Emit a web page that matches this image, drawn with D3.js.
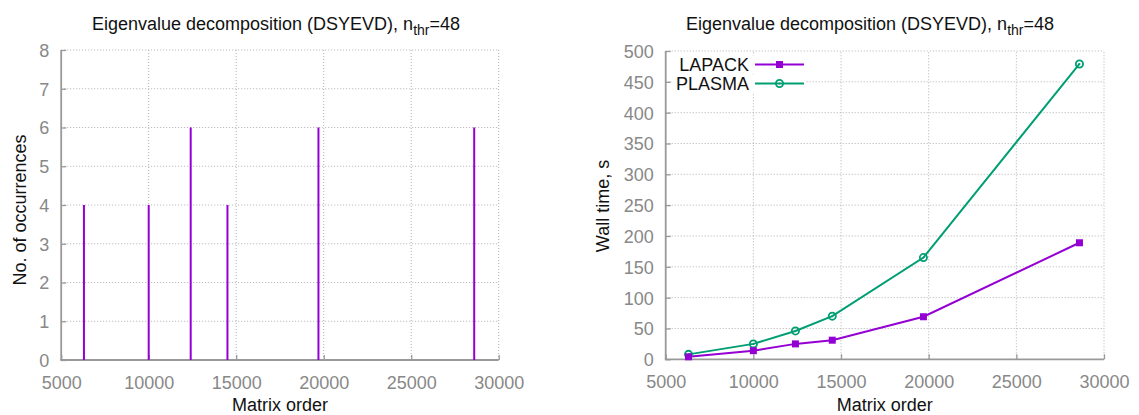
<!DOCTYPE html>
<html>
<head>
<meta charset="utf-8">
<script src="https://cdn.jsdelivr.net/npm/d3@7"></script>
<style>
  body { margin: 0; background: #fff; }
  svg { display: block; font-family: "Liberation Sans", Arial, sans-serif; }
</style>
</head>
<body>
<svg id="chart" width="1139" height="415"></svg>
<script>
// Matrix orders tested
const matrixOrders = [6300, 10000, 12400, 14500, 19700, 28600];
// Left panel: number of occurrences per matrix order
const occurrences = [4, 4, 6, 4, 6, 6];
// Right panel: wall time in seconds
const lapackTimes = [4, 14, 25, 31, 69, 189];
const plasmaTimes = [8, 25, 46, 70, 165, 479];
const seriesNames = ["LAPACK", "PLASMA"];
const xTicks = [5000, 10000, 15000, 20000, 25000, 30000];
const yTicksLeft = [0, 1, 2, 3, 4, 5, 6, 7, 8];
const yTicksRight = [0, 50, 100, 150, 200, 250, 300, 350, 400, 450, 500];

const PURPLE = "#9400d3";
const GREEN = "#009e73";
const AXIS = "#999999";
const GRID = "#b0b0b0";
const TICKTXT = "#888888";

const svg = d3.select("#chart");

function panel(opts) {
  const g = svg.append("g");
  const x = d3.scaleLinear().domain([5000, 30000]).range([opts.x0, opts.x1]);
  const y = d3.scaleLinear().domain(opts.yDomain).range([opts.y0, opts.y1]);

  // dotted grid
  g.append("g").selectAll("line.gx").data(xTicks.slice(1)).join("line")
    .attr("x1", d => x(d)).attr("x2", d => x(d))
    .attr("y1", opts.y0).attr("y2", opts.y1)
    .attr("stroke", GRID).attr("stroke-width", 1).attr("stroke-dasharray", "1,2");
  g.append("g").selectAll("line.gy").data(opts.yTicks.slice(1)).join("line")
    .attr("x1", opts.x0).attr("x2", opts.x1)
    .attr("y1", d => y(d)).attr("y2", d => y(d))
    .attr("stroke", GRID).attr("stroke-width", 1).attr("stroke-dasharray", "1,2");

  // axes with inward ticks
  const xAxis = d3.axisBottom(x).tickValues(xTicks).tickSize(-5).tickPadding(12).tickFormat(d3.format("d"));
  const yAxis = d3.axisLeft(y).tickValues(opts.yTicks).tickSize(-5).tickPadding(12).tickFormat(d3.format("d"));
  const gx = g.append("g").attr("transform", `translate(0,${opts.y0})`).call(xAxis);
  const gy = g.append("g").attr("transform", `translate(${opts.x0},0)`).call(yAxis);
  [gx, gy].forEach(a => {
    a.select(".domain").attr("stroke", AXIS).attr("stroke-width", 1.8)
      .attr("d", a === gx ? `M${opts.x0 - 0.9},0H${opts.x1}` : `M0,${opts.y0}V${opts.y1}`);
    a.selectAll(".tick line").attr("stroke", AXIS).attr("stroke-width", 1.3);
    a.selectAll(".tick text").attr("fill", TICKTXT).attr("font-size", 18)
      .attr("font-family", "Liberation Sans, Arial, sans-serif");
  });
  gx.selectAll(".tick text").attr("dy", "0.95em");
  gy.selectAll(".tick text").attr("dy", "0.36em");

  // title with subscript
  const t = g.append("text").attr("x", opts.titleX).attr("y", 30)
    .attr("font-size", 18).attr("fill", "#111").attr("text-anchor", "middle");
  t.append("tspan").text("Eigenvalue decomposition (DSYEVD), n");
  t.append("tspan").attr("font-size", 14).attr("dy", 5).text("thr");
  t.append("tspan").attr("dy", -5).text("=48");

  // axis labels
  g.append("text").attr("x", (opts.x0 + opts.x1) / 2).attr("y", 411)
    .attr("text-anchor", "middle").attr("font-size", 18).attr("fill", "#111").text("Matrix order");
  g.append("text").attr("transform", `translate(${opts.ylabX},${opts.ylabY}) rotate(-90)`)
    .attr("text-anchor", "middle").attr("font-size", 18).attr("fill", "#111").text(opts.ylab);

  return { g, x, y };
}

// Left panel: impulses
const L = panel({ x0: 61.2, x1: 498.7, y0: 360, y1: 50, yDomain: [0, 8], yTicks: yTicksLeft,
  titleX: 276, ylab: "No. of occurrences", ylabX: 26, ylabY: 210 });
L.g.append("g").selectAll("line").data(matrixOrders).join("line")
  .attr("x1", (d) => L.x(d)).attr("x2", (d) => L.x(d))
  .attr("y1", L.y(0)).attr("y2", (d, i) => L.y(occurrences[i]))
  .attr("stroke", PURPLE).attr("stroke-width", 2);

// Right panel: wall times
const R = panel({ x0: 665.7, x1: 1104, y0: 359.3, y1: 51, yDomain: [0, 500], yTicks: yTicksRight,
  titleX: 870, ylab: "Wall time, s", ylabX: 609, ylabY: 206 });

const line = d3.line().x(d => R.x(d[0])).y(d => R.y(d[1]));
const lapack = matrixOrders.map((m, i) => [m, lapackTimes[i]]);
const plasma = matrixOrders.map((m, i) => [m, plasmaTimes[i]]);

R.g.append("path").datum(plasma).attr("d", line).attr("fill", "none")
  .attr("stroke", GREEN).attr("stroke-width", 2);
R.g.append("path").datum(lapack).attr("d", line).attr("fill", "none")
  .attr("stroke", PURPLE).attr("stroke-width", 2);

function squares(sel, data) {
  sel.selectAll(null).data(data).join("rect")
    .attr("x", d => d[0] - 3.5).attr("y", d => d[1] - 3.5)
    .attr("width", 7).attr("height", 7).attr("fill", PURPLE);
}
function circles(sel, data) {
  sel.selectAll(null).data(data).join("circle")
    .attr("cx", d => d[0]).attr("cy", d => d[1]).attr("r", 3.6)
    .attr("fill", "none").attr("stroke", GREEN).attr("stroke-width", 1.8);
  sel.selectAll(null).data(data).join("circle")
    .attr("cx", d => d[0]).attr("cy", d => d[1]).attr("r", 1)
    .attr("fill", GREEN);
}
circles(R.g.append("g"), plasma.map(d => [R.x(d[0]), R.y(d[1])]));
squares(R.g.append("g"), lapack.map(d => [R.x(d[0]), R.y(d[1])]));

// legend
const legend = R.g.append("g");
const legendRows = [{ name: seriesNames[0], color: PURPLE, y: 64.5 }, { name: seriesNames[1], color: GREEN, y: 83.5 }];
legendRows.forEach((r, i) => {
  legend.append("rect").attr("x", 672).attr("y", r.y - 9).attr("width", 82).attr("height", 18).attr("fill", "#fff");
  legend.append("text").attr("x", 749).attr("y", r.y).attr("dy", "0.36em")
    .attr("text-anchor", "end").attr("font-size", 18).attr("fill", "#111").text(r.name);
  legend.append("rect").attr("x", 754).attr("y", r.y - 4).attr("width", 51).attr("height", 8).attr("fill", "#fff");
  legend.append("line").attr("x1", 755).attr("x2", 804).attr("y1", r.y).attr("y2", r.y)
    .attr("stroke", r.color).attr("stroke-width", 2);
  if (i === 0) squares(legend, [[779.5, r.y]]); else circles(legend, [[779.5, r.y]]);
});
</script>
</body>
</html>
